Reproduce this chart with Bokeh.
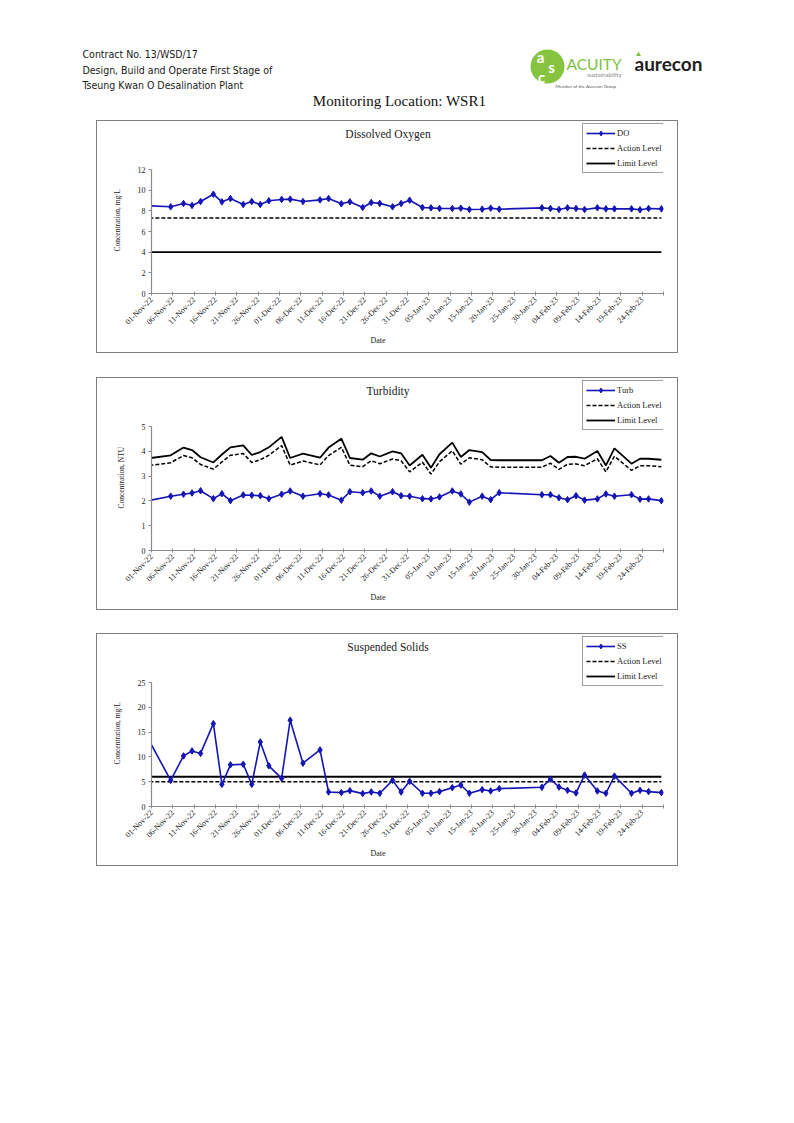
import math
import pandas as pd
from bokeh.plotting import figure
from bokeh.models import (Range1d, FixedTicker, Legend, LegendItem, Label, Spacer, Title)
from bokeh.layouts import column, row
from bokeh.core.properties import value
from bokeh.embed import file_html
from bokeh.resources import INLINE

# ---------------- data ----------------
SAMPLE_DATES = [
    "2022-10-31", "2022-11-05", "2022-11-08", "2022-11-10", "2022-11-12",
    "2022-11-15", "2022-11-17", "2022-11-19", "2022-11-22", "2022-11-24",
    "2022-11-26", "2022-11-28", "2022-12-01", "2022-12-03", "2022-12-06",
    "2022-12-10", "2022-12-12", "2022-12-15", "2022-12-17", "2022-12-20",
    "2022-12-22", "2022-12-24", "2022-12-27", "2022-12-29", "2022-12-31",
    "2023-01-03", "2023-01-05", "2023-01-07", "2023-01-10", "2023-01-12",
    "2023-01-14", "2023-01-17", "2023-01-19", "2023-01-21", "2023-01-31",
    "2023-02-02", "2023-02-04", "2023-02-06", "2023-02-08", "2023-02-10",
    "2023-02-13", "2023-02-15", "2023-02-17", "2023-02-21", "2023-02-23",
    "2023-02-25", "2023-02-28",
]

DO_VALUES = [
    8.49, 8.39, 8.71, 8.52, 8.90, 9.61, 8.87, 9.19, 8.61, 8.90,
    8.61, 8.97, 9.10, 9.13, 8.90, 9.06, 9.19, 8.68, 8.87, 8.32,
    8.81, 8.72, 8.39, 8.71, 9.03, 8.32, 8.29, 8.23, 8.23, 8.26,
    8.13, 8.16, 8.26, 8.16, 8.29, 8.23, 8.13, 8.29, 8.23, 8.13,
    8.29, 8.19, 8.19, 8.19, 8.10, 8.23, 8.19,
]
DO_ACTION = 7.3
DO_LIMIT = 4.0

TURB_VALUES = [
    2.02, 2.19, 2.27, 2.32, 2.41, 2.09, 2.29, 2.01, 2.24, 2.23,
    2.21, 2.09, 2.27, 2.40, 2.19, 2.29, 2.24, 2.03, 2.37, 2.33,
    2.40, 2.19, 2.37, 2.21, 2.19, 2.09, 2.08, 2.16, 2.40, 2.28,
    1.95, 2.19, 2.05, 2.33, 2.25, 2.25, 2.13, 2.05, 2.21, 2.03,
    2.08, 2.28, 2.19, 2.25, 2.07, 2.08, 2.01,
]
TURB_LIMIT = [
    3.72, 3.84, 4.15, 4.05, 3.76, 3.55, 3.87, 4.16, 4.24, 3.85,
    3.97, 4.16, 4.58, 3.73, 3.91, 3.74, 4.15, 4.51, 3.73, 3.66,
    3.92, 3.79, 4.00, 3.92, 3.43, 3.86, 3.34, 3.88, 4.35, 3.77,
    4.05, 3.97, 3.65, 3.64, 3.64, 3.81, 3.54, 3.77, 3.78, 3.70,
    4.01, 3.43, 4.12, 3.50, 3.70, 3.70, 3.66,
]
TURB_ACTION = [
    3.43, 3.54, 3.83, 3.74, 3.47, 3.28, 3.57, 3.84, 3.91, 3.55,
    3.66, 3.84, 4.23, 3.44, 3.61, 3.45, 3.83, 4.16, 3.44, 3.38,
    3.62, 3.50, 3.69, 3.62, 3.17, 3.56, 3.08, 3.58, 4.02, 3.48,
    3.74, 3.66, 3.37, 3.36, 3.36, 3.52, 3.27, 3.48, 3.49, 3.42,
    3.70, 3.17, 3.80, 3.23, 3.42, 3.42, 3.38,
]

SS_VALUES = [
    13.2, 5.27, 10.2, 11.2, 10.7, 16.7, 4.47, 8.40, 8.53, 4.47,
    13.0, 8.20, 5.67, 17.4, 8.73, 11.4, 2.93, 2.80, 3.20, 2.60,
    2.93, 2.67, 5.27, 2.93, 5.07, 2.67, 2.67, 3.00, 3.80, 4.33,
    2.67, 3.40, 3.13, 3.60, 3.87, 5.53, 3.93, 3.27, 2.73, 6.33,
    3.13, 2.67, 6.13, 2.67, 3.27, 3.00, 2.80,
]
SS_ACTION = 5.0
SS_LIMIT = 6.0

AXIS_START = "2022-11-01"
AXIS_END = "2023-03-01"
TICK_STEP_DAYS = 5
TICK_LABELS = [
    "01-Nov-22", "06-Nov-22", "11-Nov-22", "16-Nov-22", "21-Nov-22", "26-Nov-22",
    "01-Dec-22", "06-Dec-22", "11-Dec-22", "16-Dec-22", "21-Dec-22", "26-Dec-22",
    "31-Dec-22", "05-Jan-23", "10-Jan-23", "15-Jan-23", "20-Jan-23", "25-Jan-23",
    "30-Jan-23", "04-Feb-23", "09-Feb-23", "14-Feb-23", "19-Feb-23", "24-Feb-23",
]

# ---------------- styling ----------------
SERIF = "Liberation Serif"
HEADER_FONT = "'Liberation Sans Narrow', 'DejaVu Sans Condensed', Lato, sans-serif"
BLUE = "#1515b5"
AXIS_GREY = "#8a8a8a"
TEXT = "#222222"

start = pd.Timestamp(AXIS_START)
span_days = (pd.Timestamp(AXIS_END) - start).days
# Excel "between tick marks" date axis: each sample sits in the middle of its day
x_days = [((pd.Timestamp(d) - start).days + 0.5) for d in SAMPLE_DATES]
tick_vals = list(range(0, span_days + 1, TICK_STEP_DAYS))
overrides = {t: (TICK_LABELS[i] if i < len(TICK_LABELS) else "") for i, t in enumerate(tick_vals)}

FIG_W, FIG_H = 580, 231
MB_L, MB_R, MB_B = 54, 14, 59
FRAME_H = FIG_H - MB_B          # frame reaches the top of the box
AXIS_H = 124                    # pixel height of the value axis inside the frame


def make_chart(title, ylabel, y_end, y_step, name, values, action, limit):
    y_top = y_end * FRAME_H / AXIS_H
    p = figure(width=FIG_W, height=FIG_H, x_range=Range1d(0, span_days),
               y_range=Range1d(0, y_top), output_backend="svg", title=None,
               toolbar_location=None, min_border_left=MB_L, min_border_right=MB_R,
               min_border_top=0, min_border_bottom=MB_B,
               background_fill_color="white", border_fill_color="white",
               outline_line_color=None)
    p.grid.visible = False

    # axes
    xa = p.xaxis[0]
    xa.ticker = FixedTicker(ticks=tick_vals)
    xa.major_label_overrides = overrides
    xa.major_label_orientation = math.pi / 4
    xa.major_label_standoff = 3
    xa.major_tick_in = 2
    xa.major_tick_out = 2
    ya = p.yaxis[0]
    ya.ticker = FixedTicker(ticks=list(range(0, y_end + 1, y_step)))
    ya.bounds = (0, y_end)
    ya.major_tick_in = 0
    ya.major_tick_out = 3
    ya.major_label_standoff = 3
    for ax in (xa, ya):
        ax.axis_line_color = AXIS_GREY
        ax.axis_line_width = 1.2
        ax.major_tick_line_color = AXIS_GREY
        ax.minor_tick_line_color = None
        ax.major_label_text_font = SERIF
        ax.major_label_text_font_size = "8px"
        ax.major_label_text_color = TEXT

    # series
    if isinstance(limit, list):
        lim_r = p.line(x_days, limit, line_color="black", line_width=1.8)
        act_r = p.line(x_days, action, line_color="black", line_width=1.5, line_dash="4 2")
    else:
        xs = [x_days[0], x_days[-1]]
        lim_r = p.line(xs, [limit, limit], line_color="black", line_width=1.8)
        act_r = p.line(xs, [action, action], line_color="black", line_width=1.5, line_dash="4 2")
    ln = p.line(x_days, values, line_color=BLUE, line_width=1.6)
    mk = p.scatter(x_days, values, marker="diamond", size=6.5, fill_color=BLUE,
                   line_color=BLUE)

    legend = Legend(items=[
        LegendItem(label=name, renderers=[ln, mk]),
        LegendItem(label="Action Level", renderers=[act_r]),
        LegendItem(label="Limit Level", renderers=[lim_r]),
    ], location=(431, 120), orientation="vertical", margin=0, padding=3,
        spacing=3, glyph_width=29, glyph_height=12, label_height=12,
        label_width=50, label_standoff=2, label_text_font=SERIF,
        label_text_font_size="8.5px", label_text_color=TEXT,
        border_line_color="#404040", border_line_width=1,
        background_fill_color="white", background_fill_alpha=1.0)
    p.add_layout(legend)

    # chart title (inside the frame area, above the bounded value axis)
    p.add_layout(Label(x=236.5, y=FRAME_H - 12, x_units="screen", y_units="screen",
                       text=title, text_align="center", text_baseline="middle",
                       text_font=SERIF, text_font_size="11.5px", text_color=TEXT))
    # axis titles
    p.add_layout(Title(text=ylabel, align="left", offset=42, text_font=SERIF,
                       text_font_size="7.5px", text_font_style="normal",
                       text_color=TEXT, standoff=26), "left")
    p.add_layout(Title(text="Date", align="left", offset=219, text_font=SERIF,
                       text_font_size="8px", text_font_style="normal",
                       text_color=TEXT, standoff=2), "below")
    return p


p1 = make_chart("Dissolved Oxygen", "Concentration, mg/L", 12, 2, "DO",
                DO_VALUES, DO_ACTION, DO_LIMIT)
p2 = make_chart("Turbidity", "Concentration, NTU", 5, 1, "Turb",
                TURB_VALUES, TURB_ACTION, TURB_LIMIT)
p3 = make_chart("Suspended Solids", "Concentration, mg/L", 25, 5, "SS",
                SS_VALUES, SS_ACTION, SS_LIMIT)

# ---------------- page header ----------------
h = figure(width=778, height=120, x_range=Range1d(0, 778), y_range=Range1d(120, 0),
           output_backend="svg", toolbar_location=None, min_border=0, title=None,
           x_axis_type=None, y_axis_type=None, outline_line_color=None,
           background_fill_color="white", border_fill_color="white")
h.grid.visible = False
HEADER_LINES = ["Contract No. 13/WSD/17",
                "Design, Build and Operate First Stage of",
                "Tseung Kwan O Desalination Plant"]
h.text(x=[82, 82, 82], y=[53, 69, 84], text=HEADER_LINES,
       text_font=value(HEADER_FONT), text_font_size=value("10.5px"),
       text_color="#1a1a1a", text_baseline="middle", text_align="left")
h.text(x=[399], y=[100], text=["Monitoring Location: WSR1"],
       text_font=value(SERIF), text_font_size=value("15px"),
       text_color="#111111", text_baseline="middle", text_align="center")
# logos (approximation)
h.ellipse(x=[547], y=[66], width=34, height=34, fill_color="#86c440", line_color=None)
h.text(x=[540, 551, 541], y=[56, 66, 76], text=["a", "s", "c"],
       text_font=value("Lato"), text_font_size=value("15px"), text_color="white",
       text_font_style="bold", text_baseline="middle", text_align="center")
h.text(x=[566], y=[63], text=["ACUITY"], text_font=value("Lato"),
       text_font_size=value("15.5px"), text_color="#7cc142",
       text_baseline="middle", text_align="left")
h.text(x=[621], y=[74], text=["sustainability"], text_font=value("Lato"),
       text_font_size=value("6px"), text_color="#888888",
       text_baseline="middle", text_align="right")
h.text(x=[555], y=[86], text=["Member of the Aurecon Group"], text_font=value("Lato"),
       text_font_size=value("4.5px"), text_color="#555555",
       text_baseline="middle", text_align="left")
h.text(x=[634], y=[63], text=["aurecon"], text_font=value("Lato"),
       text_font_size=value("19px"), text_font_style="bold", text_color="#1e1e1e",
       text_baseline="middle", text_align="left")
h.scatter(x=[638], y=[54], marker="triangle", size=5, fill_color="#7cc142",
          line_color=None)

BOX_STYLE = {"border": "1px solid #7f7f7f"}


def boxed(p):
    return row(Spacer(width=96, height=FIG_H + 2), column(p, styles=BOX_STYLE))


layout = column(h, boxed(p1), Spacer(height=24), boxed(p2), Spacer(height=23), boxed(p3))

open("out.html", "w").write(file_html(layout, INLINE))
